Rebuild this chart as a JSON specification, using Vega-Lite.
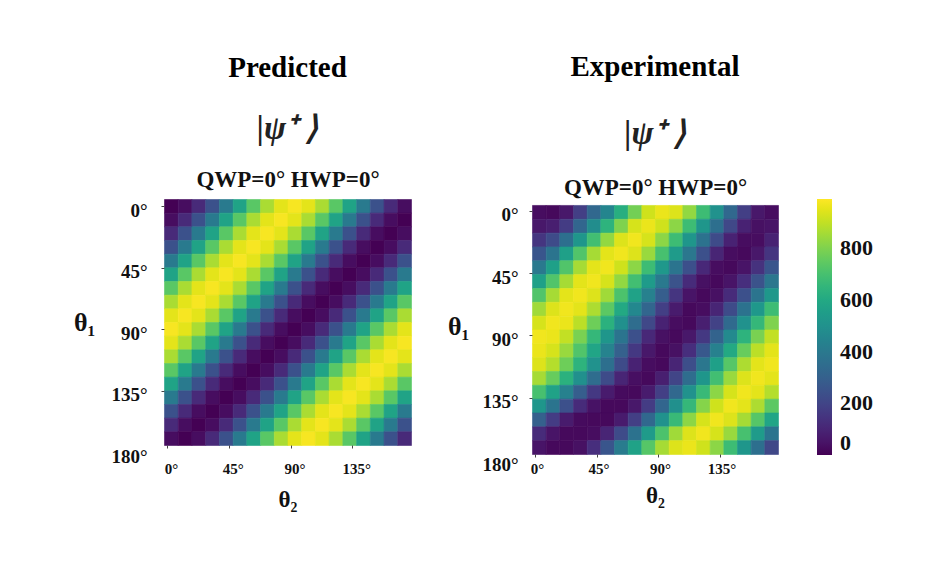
{
"$schema": "https://vega.github.io/schema/vega-lite/v6.json",
"background": "white",
"padding": {"left": 73, "top": 53, "right": 5, "bottom": 5},
"datasets": {
"pred": [
{"t1":0,"t2":0,"v":0},{"t1":0,"t2":10,"v":30},{"t1":0,"t2":20,"v":115},{"t1":0,"t2":30,"v":245},{"t1":0,"t2":40,"v":405},{"t1":0,"t2":50,"v":575},{"t1":0,"t2":60,"v":735},{"t1":0,"t2":70,"v":865},{"t1":0,"t2":80,"v":950},{"t1":0,"t2":90,"v":980},{"t1":0,"t2":100,"v":950},{"t1":0,"t2":110,"v":865},{"t1":0,"t2":120,"v":735},{"t1":0,"t2":130,"v":575},{"t1":0,"t2":140,"v":405},{"t1":0,"t2":150,"v":245},{"t1":0,"t2":160,"v":115},{"t1":0,"t2":170,"v":30},
{"t1":10,"t2":0,"v":30},{"t1":10,"t2":10,"v":115},{"t1":10,"t2":20,"v":245},{"t1":10,"t2":30,"v":405},{"t1":10,"t2":40,"v":575},{"t1":10,"t2":50,"v":735},{"t1":10,"t2":60,"v":865},{"t1":10,"t2":70,"v":950},{"t1":10,"t2":80,"v":980},{"t1":10,"t2":90,"v":950},{"t1":10,"t2":100,"v":865},{"t1":10,"t2":110,"v":735},{"t1":10,"t2":120,"v":575},{"t1":10,"t2":130,"v":405},{"t1":10,"t2":140,"v":245},{"t1":10,"t2":150,"v":115},{"t1":10,"t2":160,"v":30},{"t1":10,"t2":170,"v":0},
{"t1":20,"t2":0,"v":115},{"t1":20,"t2":10,"v":245},{"t1":20,"t2":20,"v":405},{"t1":20,"t2":30,"v":575},{"t1":20,"t2":40,"v":735},{"t1":20,"t2":50,"v":865},{"t1":20,"t2":60,"v":950},{"t1":20,"t2":70,"v":980},{"t1":20,"t2":80,"v":950},{"t1":20,"t2":90,"v":865},{"t1":20,"t2":100,"v":735},{"t1":20,"t2":110,"v":575},{"t1":20,"t2":120,"v":405},{"t1":20,"t2":130,"v":245},{"t1":20,"t2":140,"v":115},{"t1":20,"t2":150,"v":30},{"t1":20,"t2":160,"v":0},{"t1":20,"t2":170,"v":30},
{"t1":30,"t2":0,"v":245},{"t1":30,"t2":10,"v":405},{"t1":30,"t2":20,"v":575},{"t1":30,"t2":30,"v":735},{"t1":30,"t2":40,"v":865},{"t1":30,"t2":50,"v":950},{"t1":30,"t2":60,"v":980},{"t1":30,"t2":70,"v":950},{"t1":30,"t2":80,"v":865},{"t1":30,"t2":90,"v":735},{"t1":30,"t2":100,"v":575},{"t1":30,"t2":110,"v":405},{"t1":30,"t2":120,"v":245},{"t1":30,"t2":130,"v":115},{"t1":30,"t2":140,"v":30},{"t1":30,"t2":150,"v":0},{"t1":30,"t2":160,"v":30},{"t1":30,"t2":170,"v":115},
{"t1":40,"t2":0,"v":405},{"t1":40,"t2":10,"v":575},{"t1":40,"t2":20,"v":735},{"t1":40,"t2":30,"v":865},{"t1":40,"t2":40,"v":950},{"t1":40,"t2":50,"v":980},{"t1":40,"t2":60,"v":950},{"t1":40,"t2":70,"v":865},{"t1":40,"t2":80,"v":735},{"t1":40,"t2":90,"v":575},{"t1":40,"t2":100,"v":405},{"t1":40,"t2":110,"v":245},{"t1":40,"t2":120,"v":115},{"t1":40,"t2":130,"v":30},{"t1":40,"t2":140,"v":0},{"t1":40,"t2":150,"v":30},{"t1":40,"t2":160,"v":115},{"t1":40,"t2":170,"v":245},
{"t1":50,"t2":0,"v":575},{"t1":50,"t2":10,"v":735},{"t1":50,"t2":20,"v":865},{"t1":50,"t2":30,"v":950},{"t1":50,"t2":40,"v":980},{"t1":50,"t2":50,"v":950},{"t1":50,"t2":60,"v":865},{"t1":50,"t2":70,"v":735},{"t1":50,"t2":80,"v":575},{"t1":50,"t2":90,"v":405},{"t1":50,"t2":100,"v":245},{"t1":50,"t2":110,"v":115},{"t1":50,"t2":120,"v":30},{"t1":50,"t2":130,"v":0},{"t1":50,"t2":140,"v":30},{"t1":50,"t2":150,"v":115},{"t1":50,"t2":160,"v":245},{"t1":50,"t2":170,"v":405},
{"t1":60,"t2":0,"v":735},{"t1":60,"t2":10,"v":865},{"t1":60,"t2":20,"v":950},{"t1":60,"t2":30,"v":980},{"t1":60,"t2":40,"v":950},{"t1":60,"t2":50,"v":865},{"t1":60,"t2":60,"v":735},{"t1":60,"t2":70,"v":575},{"t1":60,"t2":80,"v":405},{"t1":60,"t2":90,"v":245},{"t1":60,"t2":100,"v":115},{"t1":60,"t2":110,"v":30},{"t1":60,"t2":120,"v":0},{"t1":60,"t2":130,"v":30},{"t1":60,"t2":140,"v":115},{"t1":60,"t2":150,"v":245},{"t1":60,"t2":160,"v":405},{"t1":60,"t2":170,"v":575},
{"t1":70,"t2":0,"v":865},{"t1":70,"t2":10,"v":950},{"t1":70,"t2":20,"v":980},{"t1":70,"t2":30,"v":950},{"t1":70,"t2":40,"v":865},{"t1":70,"t2":50,"v":735},{"t1":70,"t2":60,"v":575},{"t1":70,"t2":70,"v":405},{"t1":70,"t2":80,"v":245},{"t1":70,"t2":90,"v":115},{"t1":70,"t2":100,"v":30},{"t1":70,"t2":110,"v":0},{"t1":70,"t2":120,"v":30},{"t1":70,"t2":130,"v":115},{"t1":70,"t2":140,"v":245},{"t1":70,"t2":150,"v":405},{"t1":70,"t2":160,"v":575},{"t1":70,"t2":170,"v":735},
{"t1":80,"t2":0,"v":950},{"t1":80,"t2":10,"v":980},{"t1":80,"t2":20,"v":950},{"t1":80,"t2":30,"v":865},{"t1":80,"t2":40,"v":735},{"t1":80,"t2":50,"v":575},{"t1":80,"t2":60,"v":405},{"t1":80,"t2":70,"v":245},{"t1":80,"t2":80,"v":115},{"t1":80,"t2":90,"v":30},{"t1":80,"t2":100,"v":0},{"t1":80,"t2":110,"v":30},{"t1":80,"t2":120,"v":115},{"t1":80,"t2":130,"v":245},{"t1":80,"t2":140,"v":405},{"t1":80,"t2":150,"v":575},{"t1":80,"t2":160,"v":735},{"t1":80,"t2":170,"v":865},
{"t1":90,"t2":0,"v":980},{"t1":90,"t2":10,"v":950},{"t1":90,"t2":20,"v":865},{"t1":90,"t2":30,"v":735},{"t1":90,"t2":40,"v":575},{"t1":90,"t2":50,"v":405},{"t1":90,"t2":60,"v":245},{"t1":90,"t2":70,"v":115},{"t1":90,"t2":80,"v":30},{"t1":90,"t2":90,"v":0},{"t1":90,"t2":100,"v":30},{"t1":90,"t2":110,"v":115},{"t1":90,"t2":120,"v":245},{"t1":90,"t2":130,"v":405},{"t1":90,"t2":140,"v":575},{"t1":90,"t2":150,"v":735},{"t1":90,"t2":160,"v":865},{"t1":90,"t2":170,"v":950},
{"t1":100,"t2":0,"v":950},{"t1":100,"t2":10,"v":865},{"t1":100,"t2":20,"v":735},{"t1":100,"t2":30,"v":575},{"t1":100,"t2":40,"v":405},{"t1":100,"t2":50,"v":245},{"t1":100,"t2":60,"v":115},{"t1":100,"t2":70,"v":30},{"t1":100,"t2":80,"v":0},{"t1":100,"t2":90,"v":30},{"t1":100,"t2":100,"v":115},{"t1":100,"t2":110,"v":245},{"t1":100,"t2":120,"v":405},{"t1":100,"t2":130,"v":575},{"t1":100,"t2":140,"v":735},{"t1":100,"t2":150,"v":865},{"t1":100,"t2":160,"v":950},{"t1":100,"t2":170,"v":980},
{"t1":110,"t2":0,"v":865},{"t1":110,"t2":10,"v":735},{"t1":110,"t2":20,"v":575},{"t1":110,"t2":30,"v":405},{"t1":110,"t2":40,"v":245},{"t1":110,"t2":50,"v":115},{"t1":110,"t2":60,"v":30},{"t1":110,"t2":70,"v":0},{"t1":110,"t2":80,"v":30},{"t1":110,"t2":90,"v":115},{"t1":110,"t2":100,"v":245},{"t1":110,"t2":110,"v":405},{"t1":110,"t2":120,"v":575},{"t1":110,"t2":130,"v":735},{"t1":110,"t2":140,"v":865},{"t1":110,"t2":150,"v":950},{"t1":110,"t2":160,"v":980},{"t1":110,"t2":170,"v":950},
{"t1":120,"t2":0,"v":735},{"t1":120,"t2":10,"v":575},{"t1":120,"t2":20,"v":405},{"t1":120,"t2":30,"v":245},{"t1":120,"t2":40,"v":115},{"t1":120,"t2":50,"v":30},{"t1":120,"t2":60,"v":0},{"t1":120,"t2":70,"v":30},{"t1":120,"t2":80,"v":115},{"t1":120,"t2":90,"v":245},{"t1":120,"t2":100,"v":405},{"t1":120,"t2":110,"v":575},{"t1":120,"t2":120,"v":735},{"t1":120,"t2":130,"v":865},{"t1":120,"t2":140,"v":950},{"t1":120,"t2":150,"v":980},{"t1":120,"t2":160,"v":950},{"t1":120,"t2":170,"v":865},
{"t1":130,"t2":0,"v":575},{"t1":130,"t2":10,"v":405},{"t1":130,"t2":20,"v":245},{"t1":130,"t2":30,"v":115},{"t1":130,"t2":40,"v":30},{"t1":130,"t2":50,"v":0},{"t1":130,"t2":60,"v":30},{"t1":130,"t2":70,"v":115},{"t1":130,"t2":80,"v":245},{"t1":130,"t2":90,"v":405},{"t1":130,"t2":100,"v":575},{"t1":130,"t2":110,"v":735},{"t1":130,"t2":120,"v":865},{"t1":130,"t2":130,"v":950},{"t1":130,"t2":140,"v":980},{"t1":130,"t2":150,"v":950},{"t1":130,"t2":160,"v":865},{"t1":130,"t2":170,"v":735},
{"t1":140,"t2":0,"v":405},{"t1":140,"t2":10,"v":245},{"t1":140,"t2":20,"v":115},{"t1":140,"t2":30,"v":30},{"t1":140,"t2":40,"v":0},{"t1":140,"t2":50,"v":30},{"t1":140,"t2":60,"v":115},{"t1":140,"t2":70,"v":245},{"t1":140,"t2":80,"v":405},{"t1":140,"t2":90,"v":575},{"t1":140,"t2":100,"v":735},{"t1":140,"t2":110,"v":865},{"t1":140,"t2":120,"v":950},{"t1":140,"t2":130,"v":980},{"t1":140,"t2":140,"v":950},{"t1":140,"t2":150,"v":865},{"t1":140,"t2":160,"v":735},{"t1":140,"t2":170,"v":575},
{"t1":150,"t2":0,"v":245},{"t1":150,"t2":10,"v":115},{"t1":150,"t2":20,"v":30},{"t1":150,"t2":30,"v":0},{"t1":150,"t2":40,"v":30},{"t1":150,"t2":50,"v":115},{"t1":150,"t2":60,"v":245},{"t1":150,"t2":70,"v":405},{"t1":150,"t2":80,"v":575},{"t1":150,"t2":90,"v":735},{"t1":150,"t2":100,"v":865},{"t1":150,"t2":110,"v":950},{"t1":150,"t2":120,"v":980},{"t1":150,"t2":130,"v":950},{"t1":150,"t2":140,"v":865},{"t1":150,"t2":150,"v":735},{"t1":150,"t2":160,"v":575},{"t1":150,"t2":170,"v":405},
{"t1":160,"t2":0,"v":115},{"t1":160,"t2":10,"v":30},{"t1":160,"t2":20,"v":0},{"t1":160,"t2":30,"v":30},{"t1":160,"t2":40,"v":115},{"t1":160,"t2":50,"v":245},{"t1":160,"t2":60,"v":405},{"t1":160,"t2":70,"v":575},{"t1":160,"t2":80,"v":735},{"t1":160,"t2":90,"v":865},{"t1":160,"t2":100,"v":950},{"t1":160,"t2":110,"v":980},{"t1":160,"t2":120,"v":950},{"t1":160,"t2":130,"v":865},{"t1":160,"t2":140,"v":735},{"t1":160,"t2":150,"v":575},{"t1":160,"t2":160,"v":405},{"t1":160,"t2":170,"v":245},
{"t1":170,"t2":0,"v":30},{"t1":170,"t2":10,"v":0},{"t1":170,"t2":20,"v":30},{"t1":170,"t2":30,"v":115},{"t1":170,"t2":40,"v":245},{"t1":170,"t2":50,"v":405},{"t1":170,"t2":60,"v":575},{"t1":170,"t2":70,"v":735},{"t1":170,"t2":80,"v":865},{"t1":170,"t2":90,"v":950},{"t1":170,"t2":100,"v":980},{"t1":170,"t2":110,"v":950},{"t1":170,"t2":120,"v":865},{"t1":170,"t2":130,"v":735},{"t1":170,"t2":140,"v":575},{"t1":170,"t2":150,"v":405},{"t1":170,"t2":160,"v":245},{"t1":170,"t2":170,"v":115}
],
"exp": [
{"t1":0,"t2":0,"v":30},{"t1":0,"t2":10,"v":20},{"t1":0,"t2":20,"v":60},{"t1":0,"t2":30,"v":180},{"t1":0,"t2":40,"v":330},{"t1":0,"t2":50,"v":450},{"t1":0,"t2":60,"v":620},{"t1":0,"t2":70,"v":780},{"t1":0,"t2":80,"v":920},{"t1":0,"t2":90,"v":960},{"t1":0,"t2":100,"v":940},{"t1":0,"t2":110,"v":830},{"t1":0,"t2":120,"v":680},{"t1":0,"t2":130,"v":500},{"t1":0,"t2":140,"v":330},{"t1":0,"t2":150,"v":180},{"t1":0,"t2":160,"v":60},{"t1":0,"t2":170,"v":30},
{"t1":10,"t2":0,"v":60},{"t1":10,"t2":10,"v":80},{"t1":10,"t2":20,"v":170},{"t1":10,"t2":30,"v":320},{"t1":10,"t2":40,"v":480},{"t1":10,"t2":50,"v":640},{"t1":10,"t2":60,"v":800},{"t1":10,"t2":70,"v":930},{"t1":10,"t2":80,"v":960},{"t1":10,"t2":90,"v":920},{"t1":10,"t2":100,"v":820},{"t1":10,"t2":110,"v":680},{"t1":10,"t2":120,"v":520},{"t1":10,"t2":130,"v":360},{"t1":10,"t2":140,"v":210},{"t1":10,"t2":150,"v":90},{"t1":10,"t2":160,"v":40},{"t1":10,"t2":170,"v":50},
{"t1":20,"t2":0,"v":150},{"t1":20,"t2":10,"v":220},{"t1":20,"t2":20,"v":360},{"t1":20,"t2":30,"v":520},{"t1":20,"t2":40,"v":690},{"t1":20,"t2":50,"v":830},{"t1":20,"t2":60,"v":940},{"t1":20,"t2":70,"v":970},{"t1":20,"t2":80,"v":930},{"t1":20,"t2":90,"v":820},{"t1":20,"t2":100,"v":680},{"t1":20,"t2":110,"v":520},{"t1":20,"t2":120,"v":370},{"t1":20,"t2":130,"v":220},{"t1":20,"t2":140,"v":90},{"t1":20,"t2":150,"v":30},{"t1":20,"t2":160,"v":30},{"t1":20,"t2":170,"v":90},
{"t1":30,"t2":0,"v":260},{"t1":30,"t2":10,"v":380},{"t1":30,"t2":20,"v":560},{"t1":30,"t2":30,"v":720},{"t1":30,"t2":40,"v":860},{"t1":30,"t2":50,"v":950},{"t1":30,"t2":60,"v":970},{"t1":30,"t2":70,"v":940},{"t1":30,"t2":80,"v":840},{"t1":30,"t2":90,"v":700},{"t1":30,"t2":100,"v":540},{"t1":30,"t2":110,"v":390},{"t1":30,"t2":120,"v":240},{"t1":30,"t2":130,"v":100},{"t1":30,"t2":140,"v":30},{"t1":30,"t2":150,"v":20},{"t1":30,"t2":160,"v":60},{"t1":30,"t2":170,"v":150},
{"t1":40,"t2":0,"v":400},{"t1":40,"t2":10,"v":560},{"t1":40,"t2":20,"v":720},{"t1":40,"t2":30,"v":860},{"t1":40,"t2":40,"v":950},{"t1":40,"t2":50,"v":970},{"t1":40,"t2":60,"v":920},{"t1":40,"t2":70,"v":820},{"t1":40,"t2":80,"v":680},{"t1":40,"t2":90,"v":530},{"t1":40,"t2":100,"v":380},{"t1":40,"t2":110,"v":240},{"t1":40,"t2":120,"v":110},{"t1":40,"t2":130,"v":30},{"t1":40,"t2":140,"v":20},{"t1":40,"t2":150,"v":50},{"t1":40,"t2":160,"v":140},{"t1":40,"t2":170,"v":260},
{"t1":50,"t2":0,"v":560},{"t1":50,"t2":10,"v":720},{"t1":50,"t2":20,"v":860},{"t1":50,"t2":30,"v":950},{"t1":50,"t2":40,"v":970},{"t1":50,"t2":50,"v":930},{"t1":50,"t2":60,"v":830},{"t1":50,"t2":70,"v":690},{"t1":50,"t2":80,"v":540},{"t1":50,"t2":90,"v":400},{"t1":50,"t2":100,"v":250},{"t1":50,"t2":110,"v":120},{"t1":50,"t2":120,"v":40},{"t1":50,"t2":130,"v":20},{"t1":50,"t2":140,"v":50},{"t1":50,"t2":150,"v":130},{"t1":50,"t2":160,"v":250},{"t1":50,"t2":170,"v":390},
{"t1":60,"t2":0,"v":720},{"t1":60,"t2":10,"v":860},{"t1":60,"t2":20,"v":950},{"t1":60,"t2":30,"v":970},{"t1":60,"t2":40,"v":940},{"t1":60,"t2":50,"v":850},{"t1":60,"t2":60,"v":710},{"t1":60,"t2":70,"v":570},{"t1":60,"t2":80,"v":430},{"t1":60,"t2":90,"v":290},{"t1":60,"t2":100,"v":150},{"t1":60,"t2":110,"v":50},{"t1":60,"t2":120,"v":20},{"t1":60,"t2":130,"v":40},{"t1":60,"t2":140,"v":120},{"t1":60,"t2":150,"v":240},{"t1":60,"t2":160,"v":380},{"t1":60,"t2":170,"v":530},
{"t1":70,"t2":0,"v":850},{"t1":70,"t2":10,"v":940},{"t1":70,"t2":20,"v":970},{"t1":70,"t2":30,"v":950},{"t1":70,"t2":40,"v":870},{"t1":70,"t2":50,"v":740},{"t1":70,"t2":60,"v":600},{"t1":70,"t2":70,"v":460},{"t1":70,"t2":80,"v":320},{"t1":70,"t2":90,"v":180},{"t1":70,"t2":100,"v":70},{"t1":70,"t2":110,"v":20},{"t1":70,"t2":120,"v":30},{"t1":70,"t2":130,"v":100},{"t1":70,"t2":140,"v":220},{"t1":70,"t2":150,"v":370},{"t1":70,"t2":160,"v":530},{"t1":70,"t2":170,"v":680},
{"t1":80,"t2":0,"v":930},{"t1":80,"t2":10,"v":970},{"t1":80,"t2":20,"v":960},{"t1":80,"t2":30,"v":890},{"t1":80,"t2":40,"v":770},{"t1":80,"t2":50,"v":630},{"t1":80,"t2":60,"v":490},{"t1":80,"t2":70,"v":350},{"t1":80,"t2":80,"v":210},{"t1":80,"t2":90,"v":90},{"t1":80,"t2":100,"v":30},{"t1":80,"t2":110,"v":20},{"t1":80,"t2":120,"v":80},{"t1":80,"t2":130,"v":190},{"t1":80,"t2":140,"v":340},{"t1":80,"t2":150,"v":500},{"t1":80,"t2":160,"v":660},{"t1":80,"t2":170,"v":800},
{"t1":90,"t2":0,"v":970},{"t1":90,"t2":10,"v":960},{"t1":90,"t2":20,"v":900},{"t1":90,"t2":30,"v":790},{"t1":90,"t2":40,"v":660},{"t1":90,"t2":50,"v":520},{"t1":90,"t2":60,"v":380},{"t1":90,"t2":70,"v":240},{"t1":90,"t2":80,"v":110},{"t1":90,"t2":90,"v":40},{"t1":90,"t2":100,"v":20},{"t1":90,"t2":110,"v":60},{"t1":90,"t2":120,"v":160},{"t1":90,"t2":130,"v":310},{"t1":90,"t2":140,"v":470},{"t1":90,"t2":150,"v":640},{"t1":90,"t2":160,"v":790},{"t1":90,"t2":170,"v":900},
{"t1":100,"t2":0,"v":960},{"t1":100,"t2":10,"v":930},{"t1":100,"t2":20,"v":840},{"t1":100,"t2":30,"v":720},{"t1":100,"t2":40,"v":580},{"t1":100,"t2":50,"v":440},{"t1":100,"t2":60,"v":300},{"t1":100,"t2":70,"v":160},{"t1":100,"t2":80,"v":60},{"t1":100,"t2":90,"v":20},{"t1":100,"t2":100,"v":40},{"t1":100,"t2":110,"v":130},{"t1":100,"t2":120,"v":270},{"t1":100,"t2":130,"v":430},{"t1":100,"t2":140,"v":600},{"t1":100,"t2":150,"v":760},{"t1":100,"t2":160,"v":890},{"t1":100,"t2":170,"v":950},
{"t1":110,"t2":0,"v":940},{"t1":110,"t2":10,"v":880},{"t1":110,"t2":20,"v":770},{"t1":110,"t2":30,"v":640},{"t1":110,"t2":40,"v":500},{"t1":110,"t2":50,"v":360},{"t1":110,"t2":60,"v":220},{"t1":110,"t2":70,"v":90},{"t1":110,"t2":80,"v":30},{"t1":110,"t2":90,"v":20},{"t1":110,"t2":100,"v":100},{"t1":110,"t2":110,"v":230},{"t1":110,"t2":120,"v":390},{"t1":110,"t2":130,"v":560},{"t1":110,"t2":140,"v":730},{"t1":110,"t2":150,"v":870},{"t1":110,"t2":160,"v":950},{"t1":110,"t2":170,"v":970},
{"t1":120,"t2":0,"v":860},{"t1":120,"t2":10,"v":760},{"t1":120,"t2":20,"v":630},{"t1":120,"t2":30,"v":490},{"t1":120,"t2":40,"v":350},{"t1":120,"t2":50,"v":220},{"t1":120,"t2":60,"v":100},{"t1":120,"t2":70,"v":35},{"t1":120,"t2":80,"v":20},{"t1":120,"t2":90,"v":80},{"t1":120,"t2":100,"v":200},{"t1":120,"t2":110,"v":350},{"t1":120,"t2":120,"v":520},{"t1":120,"t2":130,"v":690},{"t1":120,"t2":140,"v":840},{"t1":120,"t2":150,"v":940},{"t1":120,"t2":160,"v":970},{"t1":120,"t2":170,"v":950},
{"t1":130,"t2":0,"v":700},{"t1":130,"t2":10,"v":570},{"t1":130,"t2":20,"v":430},{"t1":130,"t2":30,"v":290},{"t1":130,"t2":40,"v":160},{"t1":130,"t2":50,"v":70},{"t1":130,"t2":60,"v":25},{"t1":130,"t2":70,"v":20},{"t1":130,"t2":80,"v":70},{"t1":130,"t2":90,"v":180},{"t1":130,"t2":100,"v":330},{"t1":130,"t2":110,"v":500},{"t1":130,"t2":120,"v":670},{"t1":130,"t2":130,"v":820},{"t1":130,"t2":140,"v":930},{"t1":130,"t2":150,"v":970},{"t1":130,"t2":160,"v":950},{"t1":130,"t2":170,"v":880},
{"t1":140,"t2":0,"v":520},{"t1":140,"t2":10,"v":380},{"t1":140,"t2":20,"v":240},{"t1":140,"t2":30,"v":120},{"t1":140,"t2":40,"v":45},{"t1":140,"t2":50,"v":20},{"t1":140,"t2":60,"v":20},{"t1":140,"t2":70,"v":60},{"t1":140,"t2":80,"v":170},{"t1":140,"t2":90,"v":320},{"t1":140,"t2":100,"v":490},{"t1":140,"t2":110,"v":660},{"t1":140,"t2":120,"v":810},{"t1":140,"t2":130,"v":920},{"t1":140,"t2":140,"v":970},{"t1":140,"t2":150,"v":950},{"t1":140,"t2":160,"v":870},{"t1":140,"t2":170,"v":740},
{"t1":150,"t2":0,"v":300},{"t1":150,"t2":10,"v":170},{"t1":150,"t2":20,"v":70},{"t1":150,"t2":30,"v":25},{"t1":150,"t2":40,"v":20},{"t1":150,"t2":50,"v":20},{"t1":150,"t2":60,"v":70},{"t1":150,"t2":70,"v":180},{"t1":150,"t2":80,"v":330},{"t1":150,"t2":90,"v":500},{"t1":150,"t2":100,"v":670},{"t1":150,"t2":110,"v":820},{"t1":150,"t2":120,"v":930},{"t1":150,"t2":130,"v":970},{"t1":150,"t2":140,"v":940},{"t1":150,"t2":150,"v":860},{"t1":150,"t2":160,"v":730},{"t1":150,"t2":170,"v":580},
{"t1":160,"t2":0,"v":120},{"t1":160,"t2":10,"v":50},{"t1":160,"t2":20,"v":20},{"t1":160,"t2":30,"v":20},{"t1":160,"t2":40,"v":30},{"t1":160,"t2":50,"v":100},{"t1":160,"t2":60,"v":220},{"t1":160,"t2":70,"v":370},{"t1":160,"t2":80,"v":540},{"t1":160,"t2":90,"v":710},{"t1":160,"t2":100,"v":850},{"t1":160,"t2":110,"v":940},{"t1":160,"t2":120,"v":970},{"t1":160,"t2":130,"v":930},{"t1":160,"t2":140,"v":840},{"t1":160,"t2":150,"v":700},{"t1":160,"t2":160,"v":540},{"t1":160,"t2":170,"v":380},
{"t1":170,"t2":0,"v":50},{"t1":170,"t2":10,"v":20},{"t1":170,"t2":20,"v":20},{"t1":170,"t2":30,"v":40},{"t1":170,"t2":40,"v":130},{"t1":170,"t2":50,"v":260},{"t1":170,"t2":60,"v":410},{"t1":170,"t2":70,"v":570},{"t1":170,"t2":80,"v":730},{"t1":170,"t2":90,"v":860},{"t1":170,"t2":100,"v":940},{"t1":170,"t2":110,"v":960},{"t1":170,"t2":120,"v":920},{"t1":170,"t2":130,"v":820},{"t1":170,"t2":140,"v":680},{"t1":170,"t2":150,"v":520},{"t1":170,"t2":160,"v":360},{"t1":170,"t2":170,"v":210}
]
},
"config": {
  "font": "Liberation Serif",
  "view": {"stroke": null},
  "axis": {"labelFont": "Liberation Serif", "labelFontWeight": "bold", "labelFontSize": 15, "labelColor": "#111", "titleFont": "Liberation Serif", "titleFontWeight": "bold", "titleFontSize": 23, "titleColor": "#111", "domain": false, "grid": false, "tickColor": "#444", "tickSize": 3, "labelFlush": false},
  "title": {"font": "Liberation Serif", "fontSize": 29, "fontWeight": "bold", "color": "#000", "anchor": "middle", "subtitleFont": "Liberation Serif", "subtitleFontSize": 33, "subtitleFontStyle": "italic", "subtitleFontWeight": "bold", "subtitleColor": "#222", "subtitlePadding": 30, "offset": 22},
  "legend": {"labelFont": "Liberation Serif", "labelFontSize": 22, "labelFontWeight": "bold", "labelColor": "#111"}
},
"spacing": 35,
"resolve": {"scale": {"color": "shared"}},
"hconcat": [
{
  "width": 247, "height": 246,
  "title": {"text": "Predicted", "subtitle": "|ψ⁺ ⟩"},
  "data": {"name": "pred"},
  "resolve": {"axis": {"x": "independent"}},
  "layer": [
    {"mark": {"type": "rect", "binSpacing": 0, "strokeWidth": 0.6, "stroke": {"expr": "scale('color', datum.v)"}},
     "encoding": {
       "x": {"field": "t2", "type": "quantitative", "bin": {"step": 10, "extent": [0, 180]},
             "axis": {"values": [0, 45, 90, 135], "labelExpr": "datum.value + '°'", "title": "θ₂", "tickOffset": 3, "labelOffset": 4, "labelPadding": 13, "titlePadding": 12}},
       "y": {"field": "t1", "type": "quantitative", "bin": {"step": 10, "extent": [0, 180]}, "scale": {"reverse": true},
             "axis": {"values": [0, 45, 90, 135, 180], "labelExpr": "datum.value + '°'", "title": "θ₁", "titleAngle": 0, "titleAlign": "right", "titleBaseline": "middle", "titleFontSize": 26, "labelFontSize": 19, "tickOffset": 7, "labelOffset": 4, "labelPadding": 14, "titlePadding": 16,
                      "tickOpacity": {"condition": {"test": "datum.value == 180", "value": 0}, "value": 1}}},
       "color": {"field": "v", "type": "quantitative", "scale": {"scheme": "viridis", "domain": [0, 990]},
                 "legend": {"type": "gradient", "title": null, "values": [0, 200, 400, 600, 800], "gradientLength": 256, "gradientThickness": 15, "gradientStrokeWidth": 0, "offset": 38, "labelOffset": 8, "direction": "vertical"}}
     }},
    {"mark": {"type": "rect", "opacity": 0, "binSpacing": 0},
     "encoding": {
       "x": {"field": "t2", "type": "quantitative", "bin": {"step": 10, "extent": [0, 180]},
             "axis": {"orient": "top", "title": "QWP=0° HWP=0°", "labels": false, "ticks": false, "titlePadding": 8}}
     }}
  ]
},
{
  "width": 246, "height": 255,
  "title": {"text": "Experimental", "subtitle": "|ψ⁺ ⟩", "subtitlePadding": 36, "offset": 25},
  "data": {"name": "exp"},
  "resolve": {"axis": {"x": "independent"}},
  "layer": [
    {"mark": {"type": "rect", "binSpacing": 0, "strokeWidth": 0.6, "stroke": {"expr": "scale('color', datum.v)"}},
     "encoding": {
       "x": {"field": "t2", "type": "quantitative", "bin": {"step": 10, "extent": [0, 180]},
             "axis": {"values": [0, 45, 90, 135], "labelExpr": "datum.value + '°'", "title": "θ₂", "tickOffset": 3, "labelOffset": 2, "labelPadding": 4, "titlePadding": 8}},
       "y": {"field": "t1", "type": "quantitative", "bin": {"step": 10, "extent": [0, 180]}, "scale": {"reverse": true, "domain": [-4.3, 180]},
             "axis": {"values": [0, 45, 90, 135, 180], "labelExpr": "datum.value + '°'", "title": "θ₁", "titleAngle": 0, "titleAlign": "right", "titleBaseline": "middle", "titleFontSize": 26, "labelFontSize": 19, "tickOffset": 6, "labelOffset": 4, "labelPadding": 11, "titlePadding": 13,
                      "tickOpacity": {"condition": {"test": "datum.value == 180", "value": 0}, "value": 1}}},
       "color": {"field": "v", "type": "quantitative"}
     }},
    {"mark": {"type": "rect", "opacity": 0, "binSpacing": 0},
     "encoding": {
       "x": {"field": "t2", "type": "quantitative", "bin": {"step": 10, "extent": [0, 180]},
             "axis": {"orient": "top", "title": "QWP=0° HWP=0°", "labels": false, "ticks": false, "titlePadding": 0}}
     }}
  ]
}
]
}
